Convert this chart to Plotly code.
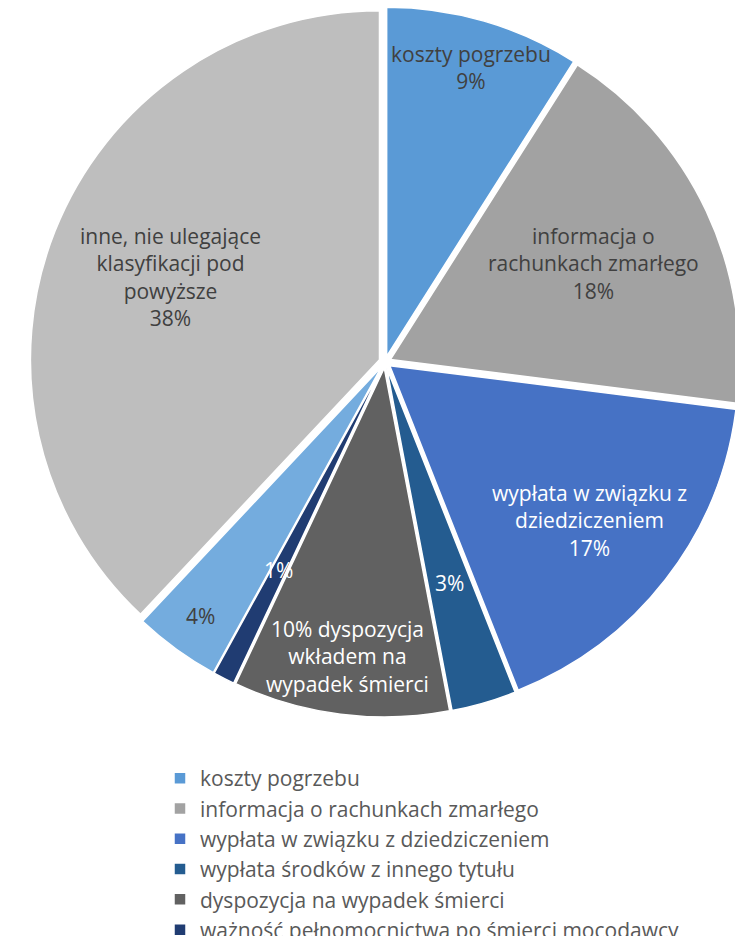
import math
import plotly.graph_objects as go

# ---- data ----
labels = [
    "koszty pogrzebu",
    "informacja o rachunkach zmarłego",
    "wypłata w związku z dziedziczeniem",
    "wypłata środków z innego tytułu",
    "dyspozycja na wypadek śmierci",
    "ważność pełnomocnictwa po śmierci mocodawcy",
    "pozostałe dyspozycje",
    "inne, nie ulegające klasyfikacji pod powyższe",
]
values = [9, 18, 17, 3, 10, 1, 4, 38]
captions = [
    "koszty pogrzebu<br>{p}",
    "informacja o<br>rachunkach zmarłego<br>{p}",
    "wypłata w związku z<br>dziedziczeniem<br>{p}",
    "{p}",
    "{p} dyspozycja<br>wkładem na<br>wypadek śmierci",
    "{p}",
    "{p}",
    "inne, nie ulegające<br>klasyfikacji pod<br>powyższe<br>{p}",
]

# ---- style ----
colors = ["#5A9AD6", "#A2A2A2", "#4672C5", "#245C90", "#616161", "#203C72", "#74ACDE", "#BEBEBE"]
text_colors = ["#404040", "#404040", "#FFFFFF", "#FFFFFF", "#FFFFFF", "#FFFFFF", "#404040", "#404040"]
label_radius = [0.88, 0.66, 0.74, 0.66, 0.85, 0.67, 0.90, 0.66]

W, H = 745, 1060
PULL = 0.017
# pie domain in pixels (left, right, top, bottom)
dom_px = (30, 740, 7, 717)
cx = (dom_px[0] + dom_px[1]) / 2
cy = (dom_px[2] + dom_px[3]) / 2
R = (dom_px[1] - dom_px[0]) / (2 * (1 + PULL))

FONT = "Open Sans"

fig = go.Figure(go.Pie(
    labels=labels,
    values=values,
    sort=False,
    direction="clockwise",
    rotation=0,
    pull=[PULL] * len(values),
    marker=dict(colors=colors, line=dict(color="#FFFFFF", width=1.5)),
    textinfo="none",
    hoverinfo="label+percent",
    domain=dict(x=[dom_px[0] / W, dom_px[1] / W], y=[1 - dom_px[3] / H, 1 - dom_px[2] / H]),
))

total = sum(values)
cum = 0
annotations = []
for i, v in enumerate(values):
    mid = (cum + v / 2) / total
    cum += v
    th = 2 * math.pi * mid
    rr = R * label_radius[i]
    x = cx + rr * math.sin(th)
    y = cy - rr * math.cos(th)
    p = f"{round(v / total * 100)}%"
    annotations.append(dict(
        x=x / W, y=1 - y / H, xref="paper", yref="paper",
        text=captions[i].replace("{p}", p), showarrow=False,
        xanchor="center", yanchor="middle", align="center",
        font=dict(family=FONT, size=21, color=text_colors[i]),
    ))

fig.update_layout(
    width=W, height=H,
    margin=dict(l=0, r=0, t=0, b=0),
    paper_bgcolor="#FFFFFF",
    plot_bgcolor="#FFFFFF",
    annotations=annotations,
    showlegend=True,
    legend=dict(
        x=160 / W, y=1 - 758 / H, xanchor="left", yanchor="top",
        font=dict(family=FONT, size=21, color="#595959"),
        bgcolor="rgba(0,0,0,0)", traceorder="normal",
    ),
)

fig.write_html("out.html")
